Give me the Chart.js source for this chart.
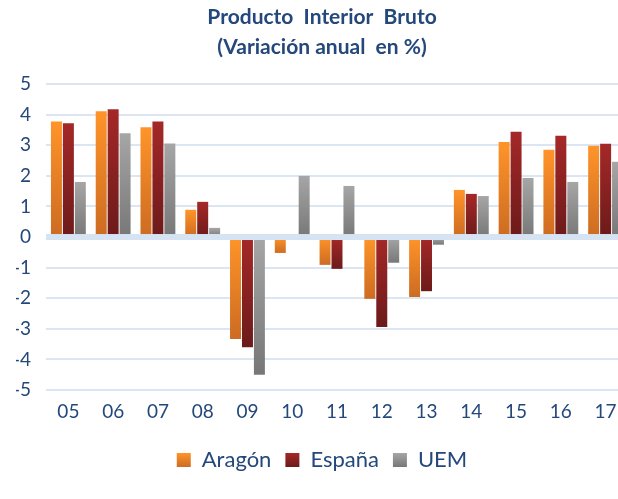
<!DOCTYPE html>
<html>
<head>
<meta charset="utf-8">
<script src="https://cdn.jsdelivr.net/npm/chart.js@4.4.0/dist/chart.umd.min.js"></script>
<style>
  html, body { margin: 0; padding: 0; overflow: hidden; background: #fff; }
  canvas { display: block; }
</style>
</head>
<body>
<canvas id="pib" width="628" height="499"></canvas>
<script>
// datos (variación anual en %)
const years  = ['05', '06', '07', '08', '09', '10', '11', '12', '13', '14', '15', '16', '17'];
const aragon = [3.78, 4.11, 3.59, 0.89, -3.33, -0.52, -0.91, -2.02, -1.96, 1.54, 3.11, 2.85, 2.98];
const espana = [3.72, 4.18, 3.78, 1.15, -3.60, 0.00, -1.04, -2.94, -1.77, 1.41, 3.44, 3.31, 3.05];
const uem    = [1.80, 3.39, 3.06, 0.30, -4.50, 2.00, 1.67, -0.84, -0.25, 1.34, 1.93, 1.80, 2.46];
const yTicks = [-5, -4, -3, -2, -1, 0, 1, 2, 3, 4, 5];

const blue = '#24487B';
const palette = [
  ['#FF9429', '#CC6B22'],
  ['#A52828', '#6C1A1A'],
  ['#A6A6A6', '#777777']
];

function vGradient(c2d, top, bottom, i) {
  if (!Number.isFinite(top) || !Number.isFinite(bottom)) return palette[i][0];
  const g = c2d.createLinearGradient(0, top, 0, bottom);
  g.addColorStop(0, palette[i][0]);
  g.addColorStop(1, palette[i][1]);
  return g;
}

// degradado vertical de cada barra (claro arriba, oscuro abajo)
function barGradient(i) {
  return ctx => {
    const chart = ctx.chart;
    const y = chart.scales.y;
    if (ctx.type !== 'data' || !y || !ctx.parsed) return palette[i][0];
    const p0 = y.getPixelForValue(0);
    const p1 = y.getPixelForValue(ctx.parsed.y);
    return vGradient(chart.ctx, Math.min(p0, p1), Math.max(p0, p1) + 0.5, i);
  };
}

const extras = {
  id: 'extras',
  beforeDraw(chart) {
    const lg = chart.legend;
    if (!lg || !lg.legendHitBoxes) return;
    lg.legendItems.forEach((item, i) => {
      const hb = lg.legendHitBoxes[i];
      if (!hb) return;
      const c = hb.top + hb.height / 2;
      item.fillStyle = vGradient(chart.ctx, c - 7, c + 7, i);
    });
  },
  afterDatasetsDraw(chart) {
    // línea del cero por encima de las barras
    const { ctx, chartArea, scales: { y } } = chart;
    const z = y.getPixelForValue(0);
    ctx.save();
    ctx.fillStyle = '#D6E3F3';
    ctx.fillRect(chartArea.left, z - 3, chartArea.right - chartArea.left, 6);
    ctx.restore();
  }
};

const font = 'Lato, "Open Sans", sans-serif';

new Chart(document.getElementById('pib'), {
  type: 'bar',
  data: {
    labels: years,
    datasets: [
      { label: 'Aragón', data: aragon, backgroundColor: barGradient(0) },
      { label: 'España', data: espana, backgroundColor: barGradient(1) },
      { label: 'UEM',    data: uem,    backgroundColor: barGradient(2) }
    ]
  },
  options: {
    responsive: false,
    animation: false,
    devicePixelRatio: 1,
    layout: { padding: { left: 16, right: 0, top: 0, bottom: 18 } },
    datasets: { bar: { categoryPercentage: 0.8, barPercentage: 0.92, borderWidth: 0 } },
    plugins: {
      title: {
        display: true,
        text: ['Producto  Interior  Bruto', '(Variación anual  en %)'],
        color: blue,
        font: { family: font, size: 21, weight: 'bold', lineHeight: 1.43 },
        padding: { top: 2, bottom: 22 }
      },
      legend: {
        position: 'bottom',
        labels: {
          color: blue,
          font: { family: font, size: 22 },
          boxWidth: 14,
          boxHeight: 14,
          padding: 14
        }
      },
      tooltip: { enabled: false }
    },
    scales: {
      x: {
        afterFit: s => { s.height = 45; },
        grid: { display: false, drawTicks: false },
        border: { display: false },
        ticks: { color: blue, font: { family: font, size: 19 }, padding: 10 }
      },
      y: {
        min: -5,
        max: 5,
        afterFit: s => { s.width = 30; },
        afterBuildTicks: s => { s.ticks = yTicks.map(v => ({ value: v })); },
        grid: { color: '#DCE6F3', lineWidth: 2, drawTicks: false },
        border: { display: false },
        ticks: {
          color: blue,
          font: { family: font, size: 19 },
          padding: 15,
          callback: v => String(v)
        }
      }
    }
  },
  plugins: [extras]
});
</script>
</body>
</html>
